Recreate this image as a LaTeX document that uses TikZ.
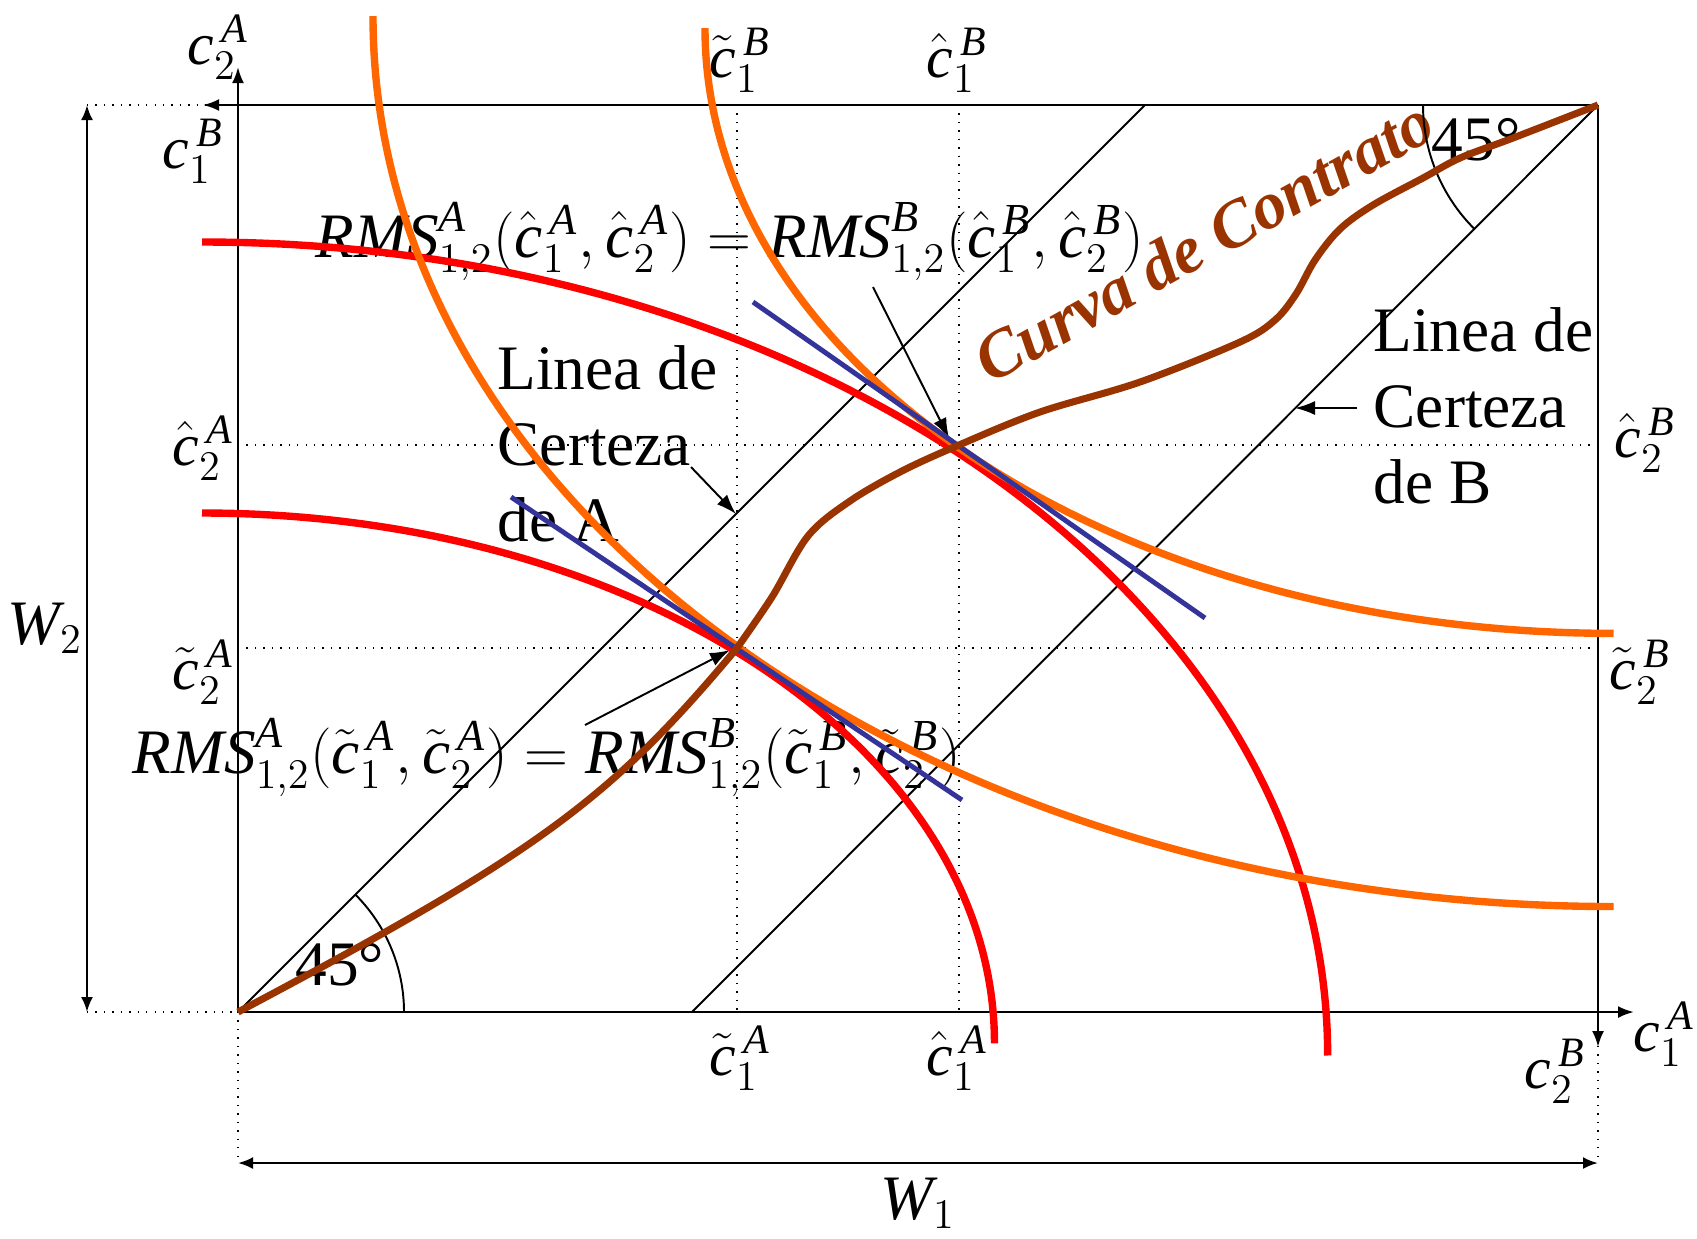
\documentclass[tikz,border=0pt]{standalone}
\usepackage{fontspec}
\setmainfont{Liberation Serif}
\usetikzlibrary{arrows.meta, positioning, calc}
\definecolor{icacolor}{RGB}{255,0,0}
\definecolor{icbcolor}{RGB}{255,102,0}
\definecolor{contcolor}{RGB}{153,51,0}
\definecolor{rmscolor}{RGB}{51,51,153}
\newcommand{\cv}{\mathit{c}}

\begin{document}
\begin{tikzpicture}[
    x=0.01cm, y=-0.01cm,
    txt/.style={font=\fontsize{18}{21.6}\selectfont, inner sep=0pt},
    lbl/.style={font=\fontsize{17}{20}\selectfont, inner sep=0pt},
    axis/.style={line width=0.7pt, -{Latex[length=1.6mm, width=1.2mm]}},
    dimline/.style={line width=0.7pt, {Latex[length=1.5mm, width=1.2mm]}-{Latex[length=1.5mm, width=1.2mm]}},
    guide/.style={dotted, line width=0.4pt},
    certline/.style={line width=0.55pt},
    ptr/.style={line width=0.55pt, -{Latex[length=2mm, width=1.4mm]}},
    icA/.style={icacolor, line width=2.1pt},
    icB/.style={icbcolor, line width=2.1pt},
    tang/.style={rmscolor, line width=1.4pt},
    contract/.style={contcolor, line width=2pt, line join=round},
]
\useasboundingbox (0,0) rectangle (1697,1238);

% origenes y puntos de tangencia
\coordinate (OA) at (238,1012);
\coordinate (OB) at (1598,105);
\coordinate (Pt) at (737,648);
\coordinate (Ph) at (959,445);

% lineas guia
\draw[guide] (Pt |- OB) -- (Pt |- OA);
\draw[guide] (Ph |- OB) -- (Ph |- OA);
\draw[guide] (OA |- Ph) -- (OB |- Ph);
\draw[guide] (OA |- Pt) -- (OB |- Pt);
\draw[guide] (87,105) -- (OA |- OB);
\draw[guide] (87,1012) -- (OA);
\draw[guide] (OA) -- (238,1163);
\draw[guide] (OB |- OA) -- (1598,1163);

% textos
\node[txt, anchor=base west] (rmsh) at (315,257)
  {$\mathit{RMS}^{\mathit{A}}_{1,2}(\hat{\cv}^{\,\mathit{A}}_{1},\hat{\cv}^{\,\mathit{A}}_{2})=\mathit{RMS}^{\mathit{B}}_{1,2}(\hat{\cv}^{\,\mathit{B}}_{1},\hat{\cv}^{\,\mathit{B}}_{2})$};
\node[txt, anchor=base west] (rmst) at (132,773)
  {$\mathit{RMS}^{\mathit{A}}_{1,2}(\tilde{\cv}^{\,\mathit{A}}_{1},\tilde{\cv}^{\,\mathit{A}}_{2})=\mathit{RMS}^{\mathit{B}}_{1,2}(\tilde{\cv}^{\,\mathit{B}}_{1},\tilde{\cv}^{\,\mathit{B}}_{2})$};
\node[txt, anchor=north west, align=left] (certA) at (497,345) {Linea de\\Certeza\\de A};
\node[txt, anchor=north west, align=left] (certB) at (1373,307) {Linea de\\Certeza\\de B};
\node[font=\fontsize{19}{22}\selectfont\bfseries\itshape, text=contcolor, inner sep=0pt,
      rotate=29, anchor=base west] (curva) at (990,385) {Curva de Contrato};
\node[txt] (angA) at (340,965) {45°};
\node[txt] (angB) at (1476,140) {45°};

\node[lbl] (c2A) at (218,47) {$\cv^{\,\mathit{A}}_{2}$};
\node[lbl] (c1B) at (193,151) {$\cv^{\,\mathit{B}}_{1}$};
\node[lbl] (c1A) at (1664,1034) {$\cv^{\,\mathit{A}}_{1}$};
\node[lbl] (c2B) at (1555,1071) {$\cv^{\,\mathit{B}}_{2}$};
\node[lbl] (ct1B) at (740,60) {$\tilde{\cv}^{\,\mathit{B}}_{1}$};
\node[lbl] (ch1B) at (957,60) {$\hat{\cv}^{\,\mathit{B}}_{1}$};
\node[lbl] (ct1A) at (740,1058) {$\tilde{\cv}^{\,\mathit{A}}_{1}$};
\node[lbl] (ch1A) at (957,1058) {$\hat{\cv}^{\,\mathit{A}}_{1}$};
\node[lbl] (ch2A) at (203,448) {$\hat{\cv}^{\,\mathit{A}}_{2}$};
\node[lbl] (ct2A) at (203,672) {$\tilde{\cv}^{\,\mathit{A}}_{2}$};
\node[lbl] (ch2B) at (1645,440) {$\hat{\cv}^{\,\mathit{B}}_{2}$};
\node[lbl] (ct2B) at (1640,672) {$\tilde{\cv}^{\,\mathit{B}}_{2}$};
\node[txt] (W2) at (45,628) {$\mathit{W}_{2}$};
\node[txt] (W1) at (918,1203) {$\mathit{W}_{1}$};

% ejes y dimensiones
\draw[axis] (OA) -- (238,67);
\draw[axis] (OA) -- (1634,1012);
\draw[axis] (OB) -- (203,105);
\draw[axis] (OB) -- (1598,1047);
\draw[dimline] (87,105) -- (87,1012);
\draw[dimline] (238,1163) -- (1598,1163);

% lineas de certeza y angulos
\coordinate (LAend) at (1145,105);
\coordinate (LBend) at (692,1012);
\draw[certline] (OA) -- (LAend);
\draw[certline] (OB) -- (LBend);
\draw[certline] (OA) ++(166,0) arc[start angle=0, end angle=45, radius=1.66cm];
\draw[certline] (OB) ++(-175,0) arc[start angle=180, end angle=225, radius=1.75cm];

% flechas de las etiquetas
\coordinate (LA) at (736,514);
\coordinate (LB) at (1295,408);
\draw[ptr] (873,287) -- ([shift={(-10,-7)}]Ph);
\draw[ptr] (585,725) -- ([shift={(-7,2)}]Pt);
\draw[ptr] (691,467) -- (LA);
\draw[ptr] (1357,408) -- (LB);

% curvas de indiferencia de A
\draw[icA] (202,513) arc[start angle=90, end angle=0, x radius=7.92cm, y radius=5.30cm];
\draw[icA] (202,242) arc[start angle=90, end angle=0, x radius=11.25cm, y radius=8.13cm];

% curvas de indiferencia de B
\draw[icB] (373,16) arc[start angle=180, end angle=270, x radius=12.40cm, y radius=8.90cm];
\draw[icB] (705,28) arc[start angle=180, end angle=270, x radius=9.08cm, y radius=6.05cm];

% tangentes
\draw[tang] (511,497) -- (962,800);
\draw[tang] (753,302) -- (1205,618);

% curva de contrato
\draw[contract] (OA) .. controls (538,853) and (610,800) .. (Pt)
  -- plot[smooth, tension=0.55] coordinates {(Pt) (772,597) (808,536) (850,501) (902,471) (959,445) (1040,412) (1140,382) (1240,342) (1275,320) (1296,294) (1315,260) (1340,229) (1373,205) (1423,178) (1460,158) (1513,138) (OB)};

\end{tikzpicture}
\end{document}
